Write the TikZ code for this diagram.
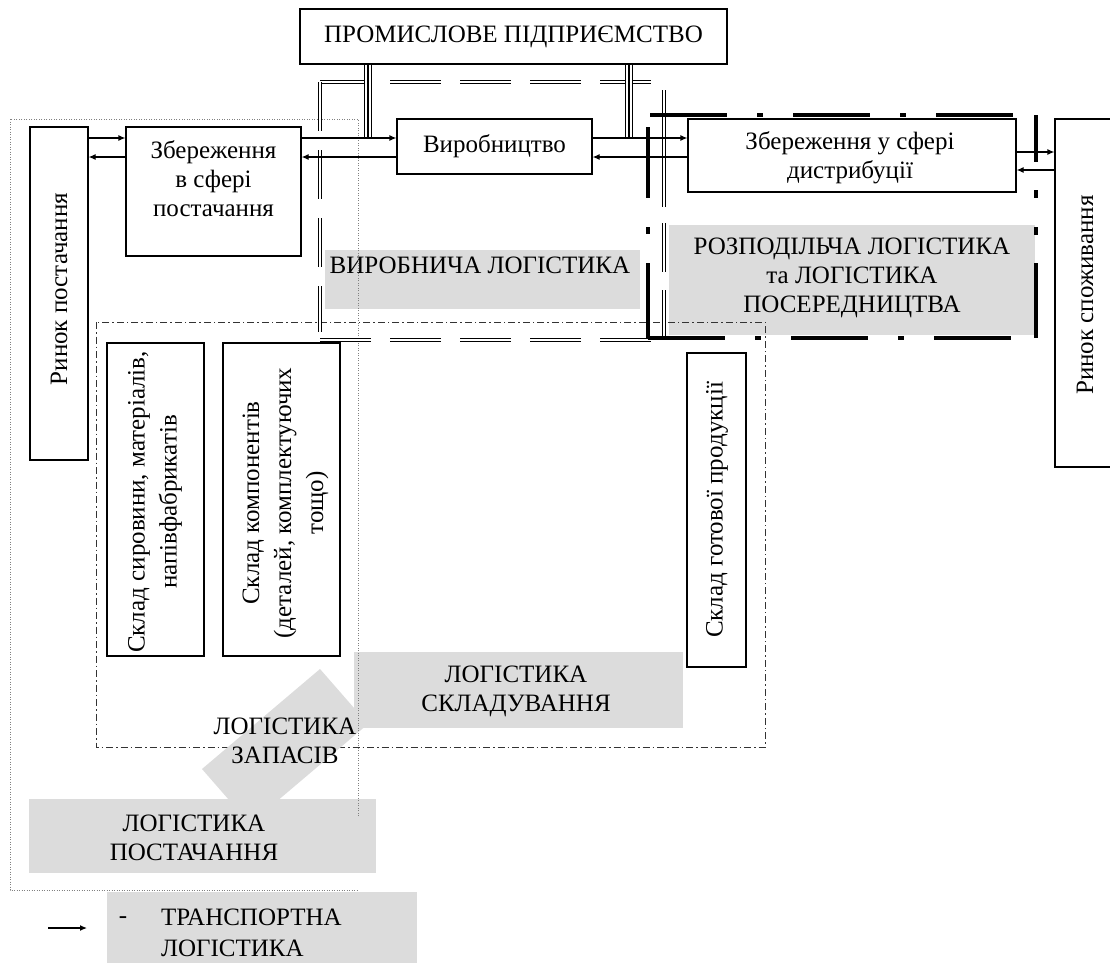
\documentclass[tikz,border=0pt]{standalone}
\usepackage{fontspec}
\setmainfont{Liberation Serif}
\usetikzlibrary{arrows.meta}
\definecolor{lg}{RGB}{220,220,220}
\begin{document}
\begin{tikzpicture}[x=1pt,y=-1pt,
  every node/.style={font=\fontsize{25}{29}\selectfont, inner sep=0pt, text=black},
  box/.style={draw, line width=1.2pt, fill=white},
  gbox/.style={fill=lg},
  arr/.style={line width=1.2pt, -{Latex[length=7pt,width=6pt]}},
  tripleout/.style={line width=1.2pt, double, double distance=6.4pt},
  triplein/.style={line width=1.2pt},
  prodline/.style={line width=1.1pt, double, double distance=2.6pt, dash pattern=on 51pt off 19pt},
  distline/.style={line width=4pt, dash pattern=on 77pt off 30pt on 6pt off 30pt},
  storeline/.style={line width=1pt, black!80, dash pattern=on 7pt off 3pt on 1.5pt off 3pt},
  supline/.style={line width=0.8pt, gray, dash pattern=on 1pt off 1.5pt}]
\clip (0,0) rectangle (1110,962);
\fill[white] (0,0) rectangle (1110,962);

% helper coordinates
\coordinate (ya) at (0,138);
\coordinate (yb) at (0,157);
\coordinate (yc) at (0,152);
\coordinate (yd) at (0,170);
\coordinate (xa) at (368,0);
\coordinate (xb) at (629,0);

% grey labels (back layer)
\node[gbox, minimum width=315pt, minimum height=59pt] (vl) at (482.5,279.5) {};
\node (vlt) at (480,265) {ВИРОБНИЧА ЛОГІСТИКА};
\node[gbox, minimum width=366pt, minimum height=110pt] (rl) at (852,280) {};
\node[align=center] (rlt) at (852,278) {РОЗПОДІЛЬЧА ЛОГІСТИКА\\та ЛОГІСТИКА\\ПОСЕРЕДНИЦТВА};

% warehouse logistics frame
\draw[storeline] (96,322) rectangle (765,747);

% stock logistics (rotated grey band)
\fill[lg] (320,669) -- (368,724) -- (250,824) -- (202,769) -- cycle;
\node[align=center] (zl) at (285,741) {ЛОГІСТИКА\\ЗАПАСІВ};
\node[gbox, minimum width=329pt, minimum height=76pt] (sl) at (518.5,690) {};
\node[align=center] (slt) at (516,691.5) {ЛОГІСТИКА\\СКЛАДУВАННЯ};
\node[gbox, minimum width=347pt, minimum height=74pt] (pl) at (202.5,836) {};
\node[align=center] (plt) at (194,837.5) {ЛОГІСТИКА\\ПОСТАЧАННЯ};

% supply logistics frame (dotted)
\draw[supline] (358,816) -- (358,119) -- (10,119) -- (10,890) -- (358,890);

% production logistics frame (double dashed)
\draw[prodline] (320,82) -- (653,82);
\draw[prodline, dash pattern=on 49pt off 19pt] (320,82) -- (320,332);
\draw[prodline] (320,340) -- (652,340);
\draw[prodline, dash pattern=on 117pt off 16pt on 49pt off 18pt on 50pt off 20pt] (664,90) -- (664,340);

% distribution logistics frame (thick dash-dot)
\draw[distline] (650,115) -- (1013,115);
\draw[distline] (648,338) -- (1013,338);
\draw[distline, dash pattern=on 71pt off 29pt on 7pt off 29pt on 75pt off 20pt] (648,127) -- (648,338);
\draw[distline, dash pattern=on 47pt off 28pt on 8pt off 29pt on 8pt off 28pt on 75pt off 20pt] (1036,115) -- (1036,338);

% boxes
\node[box, minimum width=427pt, minimum height=55pt] (pp) at (513.5,36.5) {ПРОМИСЛОВЕ ПІДПРИЄМСТВО};
\node[box, minimum width=58pt, minimum height=333pt] (rp) at (59,293.5) {};
\node[rotate=90] (rpt) at (59,289) {Ринок постачання};
\node[box, minimum width=175pt, minimum height=129pt] (zs) at (213.5,191.5) {};
\node[align=center] (zst) at (213.5,179) {Збереження\\в сфері\\постачання};
\node[box, minimum width=195pt, minimum height=55pt] (vy) at (494.5,146.5) {Виробництво};
\node[box, minimum width=328pt, minimum height=73pt] (zd) at (852,155.5) {};
\node[align=center] (zdt) at (850,157.5) {Збереження у сфері\\дистрибуції};
\node[box, minimum width=60pt, minimum height=348pt] (rs) at (1085,293) {};
\node[rotate=90] (rst) at (1085,295) {Ринок споживання};

\node[box, minimum width=97pt, minimum height=313pt] (s1) at (155.5,499.5) {};
\node[rotate=90, align=center] (s1t) at (155,502) {Склад сировини, матеріалів,\\[3pt]напівфабрикатів};
\node[box, minimum width=117pt, minimum height=313pt] (s2) at (281.5,499.5) {};
\node[rotate=90, align=center] (s2t) at (285.5,503) {Склад компонентів\\[3pt](деталей, комплектуючих\\[3pt]тощо)};
\node[box, minimum width=59pt, minimum height=314pt] (s3) at (716.5,510) {};
\node[rotate=90] (s3t) at (717,510) {Склад готової продукції};

% links from the enterprise
\draw[tripleout] (pp.south -| xa) -- (xa |- ya);
\draw[triplein] (pp.south -| xa) -- (xa |- ya);
\draw[tripleout] (pp.south -| xb) -- (xb |- ya);
\draw[triplein] (pp.south -| xb) -- (xb |- ya);

% flows
\draw[arr] (rp.east |- ya) -- (zs.west |- ya);
\draw[arr] (zs.west |- yb) -- (rp.east |- yb);
\draw[arr] (zs.east |- ya) -- (vy.west |- ya);
\draw[arr] (vy.west |- yb) -- (zs.east |- yb);
\draw[arr] (vy.east |- ya) -- (zd.west |- ya);
\draw[arr] (zd.west |- yb) -- (vy.east |- yb);
\draw[arr] (zd.east |- yc) -- (rs.west |- yc);
\draw[arr] (rs.west |- yd) -- (zd.east |- yd);

% legend
\node[gbox, minimum width=310pt, minimum height=78pt] (lg) at (262,931) {};
\coordinate (la) at (48,928);
\coordinate (lb) at (87,928);
\draw[arr] (la) -- (lb);
\node (ldash) at (123,920) {-};
\node[anchor=west] (lt1) at (161,917) {ТРАНСПОРТНА};
\node[anchor=west] (lt2) at (161,948) {ЛОГІСТИКА};
\end{tikzpicture}
\end{document}
